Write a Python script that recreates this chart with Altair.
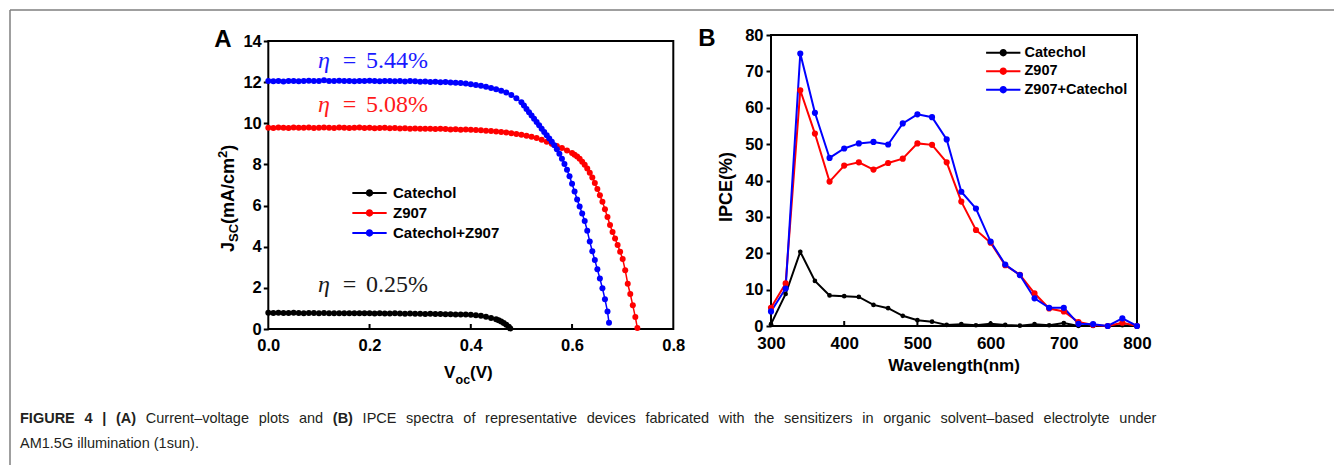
import altair as alt
import pandas as pd

# ---------------- Panel A : J-V curves ----------------
seriesA = ["Catechol", "Z907", "Catechol+Z907"]
V_catechol = [0.00, 0.01, 0.02, 0.03, 0.04, 0.05, 0.06, 0.07, 0.08, 0.09,
              0.10, 0.11, 0.12, 0.13, 0.14, 0.15, 0.16, 0.17, 0.18, 0.19,
              0.20, 0.21, 0.22, 0.23, 0.24, 0.25, 0.26, 0.27, 0.28, 0.29,
              0.30, 0.31, 0.32, 0.33, 0.34, 0.35, 0.36, 0.37, 0.38, 0.39,
              0.40, 0.41, 0.42, 0.43, 0.44, 0.45, 0.455, 0.46, 0.465, 0.47, 0.475, 0.478]
J_catechol = [0.79, 0.78, 0.79, 0.78, 0.78, 0.79, 0.78, 0.77, 0.78, 0.78,
              0.77, 0.78, 0.77, 0.77, 0.76, 0.77, 0.76, 0.76, 0.77, 0.76,
              0.76, 0.75, 0.76, 0.75, 0.75, 0.76, 0.75, 0.74, 0.75, 0.74,
              0.74, 0.73, 0.74, 0.73, 0.73, 0.72, 0.72, 0.71, 0.71, 0.70,
              0.69, 0.67, 0.64, 0.60, 0.54, 0.47, 0.42, 0.36, 0.29, 0.21, 0.11, 0.03]
V_z907 = [0.00, 0.01, 0.02, 0.03, 0.04, 0.05, 0.06, 0.07, 0.08, 0.09,
          0.10, 0.11, 0.12, 0.13, 0.14, 0.15, 0.16, 0.17, 0.18, 0.19,
          0.20, 0.21, 0.22, 0.23, 0.24, 0.25, 0.26, 0.27, 0.28, 0.29,
          0.30, 0.31, 0.32, 0.33, 0.34, 0.35, 0.36, 0.37, 0.38, 0.39,
          0.40, 0.41, 0.42, 0.43, 0.44, 0.45, 0.46, 0.47, 0.48, 0.49,
          0.50, 0.51, 0.52, 0.53, 0.54, 0.55, 0.56, 0.57, 0.58, 0.59,
          0.60, 0.605, 0.61, 0.615, 0.62, 0.625, 0.63, 0.635, 0.64, 0.645,
          0.65, 0.655, 0.66, 0.665, 0.67, 0.675, 0.68, 0.685, 0.69, 0.695,
          0.70, 0.705, 0.71, 0.715, 0.72, 0.725, 0.729]
J_z907 = [9.78, 9.77, 9.79, 9.78, 9.77, 9.79, 9.78, 9.78, 9.79, 9.77,
          9.78, 9.79, 9.78, 9.77, 9.79, 9.78, 9.77, 9.78, 9.79, 9.77,
          9.78, 9.76, 9.77, 9.78, 9.76, 9.77, 9.75, 9.76, 9.74, 9.75,
          9.74, 9.73, 9.74, 9.72, 9.73, 9.72, 9.70, 9.71, 9.69, 9.70,
          9.68, 9.67, 9.66, 9.64, 9.63, 9.60, 9.58, 9.55, 9.52, 9.48,
          9.44, 9.40, 9.35, 9.28, 9.20, 9.10, 9.00, 8.90, 8.80, 8.68,
          8.55, 8.47, 8.38, 8.27, 8.13, 7.98, 7.80, 7.60, 7.36, 7.10,
          6.80, 6.50, 6.18, 5.82, 5.44, 5.06, 4.72, 4.40, 4.08, 3.76,
          3.40, 2.86, 2.20, 1.70, 1.15, 0.58, 0.05]
V_mix = [0.00, 0.01, 0.02, 0.03, 0.04, 0.05, 0.06, 0.07, 0.08, 0.09,
         0.10, 0.11, 0.12, 0.13, 0.14, 0.15, 0.16, 0.17, 0.18, 0.19,
         0.20, 0.21, 0.22, 0.23, 0.24, 0.25, 0.26, 0.27, 0.28, 0.29,
         0.30, 0.31, 0.32, 0.33, 0.34, 0.35, 0.36, 0.37, 0.38, 0.39,
         0.40, 0.41, 0.42, 0.43, 0.44, 0.45, 0.46, 0.47, 0.48, 0.49,
         0.50, 0.505, 0.51, 0.515, 0.52, 0.525, 0.53, 0.535, 0.54, 0.545,
         0.55, 0.555, 0.56, 0.565, 0.57, 0.575, 0.58, 0.585, 0.59, 0.595,
         0.60, 0.605, 0.61, 0.615, 0.62, 0.625, 0.63, 0.635, 0.64, 0.645,
         0.65, 0.655, 0.66, 0.665, 0.67, 0.673]
J_mix = [12.05, 12.04, 12.06, 12.03, 12.05, 12.06, 12.04, 12.05, 12.07, 12.05,
         12.06, 12.09, 12.06, 12.05, 12.07, 12.05, 12.06, 12.04, 12.06, 12.05,
         12.07, 12.05, 12.04, 12.06, 12.05, 12.04, 12.05, 12.03, 12.05, 12.04,
         12.02, 12.03, 12.01, 12.02, 12.00, 12.01, 11.98, 11.97, 11.96, 11.93,
         11.90, 11.86, 11.83, 11.78, 11.72, 11.66, 11.58, 11.50, 11.38, 11.22,
         11.02, 10.86, 10.70, 10.54, 10.38, 10.22, 10.06, 9.90, 9.74, 9.58,
         9.42, 9.26, 9.10, 8.93, 8.74, 8.52, 8.28, 8.02, 7.74, 7.42,
         7.06, 6.68, 6.30, 5.95, 5.62, 5.25, 4.78, 4.25, 3.78, 3.35,
         2.90, 2.45, 1.98, 1.45, 0.85, 0.30]
ticksA_x = [0.0, 0.2, 0.4, 0.6, 0.8]
ticksA_y = [0, 2, 4, 6, 8, 10, 12, 14]
eta_values = ["5.44%", "5.08%", "0.25%"]

# ---------------- Panel B : IPCE ----------------
seriesB = ["Catechol", "Z907", "Z907+Catechol"]
wavelength = [300, 320, 340, 360, 380, 400, 420, 440, 460, 480, 500, 520, 540,
              560, 580, 600, 620, 640, 660, 680, 700, 720, 740, 760, 780, 800]
ipce_catechol = [0.5, 8.8, 20.4, 12.4, 8.4, 8.2, 8.0, 5.8, 4.9, 2.8, 1.6, 1.2, 0.3,
                 0.5, 0.2, 0.6, 0.3, 0.1, 0.5, 0.2, 0.8, 0.0, 0.0, 0.0, 0.2, 0.0]
ipce_z907 = [5.0, 11.7, 64.8, 52.9, 39.7, 44.1, 45.0, 43.0, 44.8, 46.0, 50.2, 49.8, 45.0,
             34.2, 26.4, 22.9, 16.7, 14.1, 9.0, 4.8, 4.0, 1.1, 0.3, 0.0, 0.9, 0.0]
ipce_mix = [4.0, 10.3, 74.9, 58.6, 46.2, 48.8, 50.2, 50.6, 49.9, 55.7, 58.2, 57.4, 51.3,
            36.9, 32.3, 23.2, 16.9, 14.0, 7.6, 5.0, 5.0, 0.6, 0.5, 0.0, 2.1, 0.0]
ticksB_x = [300, 400, 500, 600, 700, 800]
ticksB_y = [0, 10, 20, 30, 40, 50, 60, 70, 80]

colors = ["#000000", "#ff0000", "#0000ff"]

GAP = "\u2002\u2006"   # widened (justified) word space
caption_bold = ["FIGURE 4 | (A)", "(B)"]
caption_text = ["Current\u2013voltage plots and",
                "IPCE spectra of representative devices fabricated with the sensitizers in organic solvent\u2013based electrolyte under",
                "AM1.5G illumination (1sun)."]

# ---------------- layout constants ----------------
W, H = 1326, 457
FONT = "Liberation Sans"
SERIF = "Liberation Serif"
SYMBOL = "M-2.45,-0.15H2.45V0.15H-2.45Z M0.52,0A0.52,0.52,0,1,1,-0.52,0A0.52,0.52,0,1,1,0.52,0Z"

A_x0, A_x1, A_ytop, A_ybot = 260.3, 665.3, 33, 321
B_x0, B_x1, B_ytop, B_ybot = 763, 1129, 27, 318


def series_frame(xs, ys, name, xk, yk):
    return pd.DataFrame({xk: xs, yk: ys, "series": name})


dfA = pd.concat([series_frame(V_catechol, J_catechol, seriesA[0], "V", "J"),
                 series_frame(V_z907, J_z907, seriesA[1], "V", "J"),
                 series_frame(V_mix, J_mix, seriesA[2], "V", "J")], ignore_index=True)
dfB_black = series_frame(wavelength, ipce_catechol, seriesB[0], "wl", "ipce")
dfB_col = pd.concat([series_frame(wavelength, ipce_z907, seriesB[1], "wl", "ipce"),
                     series_frame(wavelength, ipce_mix, seriesB[2], "wl", "ipce")], ignore_index=True)
dfB = pd.concat([dfB_black, dfB_col], ignore_index=True)

label_style = dict(labelFont=FONT, labelFontWeight="bold", labelColor="black",
                   labelFlush=False, labelOverlap=False, grid=False, domain=False, title=None)


def xsA():
    return alt.Scale(domain=[ticksA_x[0], ticksA_x[-1]], range=[A_x0, A_x1], nice=False, zero=False)


def ysA():
    return alt.Scale(domain=[ticksA_y[0], ticksA_y[-1]], range=[A_ybot, A_ytop], nice=False, zero=False)


def xsB():
    return alt.Scale(domain=[ticksB_x[0], ticksB_x[-1]], range=[B_x0, B_x1], nice=False, zero=False)


def ysB():
    return alt.Scale(domain=[ticksB_y[0], ticksB_y[-1]], range=[B_ybot, B_ytop], nice=False, zero=False)


axAx = alt.Axis(orient="bottom", offset=-(H - A_ybot), values=ticksA_x, format=".1f",
                ticks=False, tickSize=0, labelPadding=8, labelFontSize=16.5, **label_style)
axAy = alt.Axis(orient="left", offset=-A_x0, values=ticksA_y, format="d",
                ticks=True, tickSize=5, tickWidth=2, tickColor="black",
                labelPadding=2, labelFontSize=16.5, **label_style)
axBx = alt.Axis(orient="bottom", offset=-(H - B_ybot), values=ticksB_x, format="d",
                ticks=False, tickSize=0, labelPadding=9, labelFontSize=17, **label_style)
axBy = alt.Axis(orient="left", offset=-B_x0, values=ticksB_y, format="d",
                ticks=True, tickSize=5, tickWidth=2, tickColor="black",
                labelPadding=3, labelFontSize=16.5, **label_style)


def legend(x, y, size, offset, pad):
    return alt.Legend(orient="none", legendX=x, legendY=y, direction="vertical", title=None,
                      symbolType=SYMBOL, symbolSize=196, symbolStrokeWidth=0, symbolOpacity=1,
                      labelFont=FONT, labelFontSize=size, labelFontWeight="bold",
                      labelColor="black", labelOffset=offset, rowPadding=pad, padding=0)


# ---------------- Panel A layers ----------------
frameA = alt.Chart(pd.DataFrame({"x0": [ticksA_x[0]], "x1": [ticksA_x[-1]],
                                 "y0": [ticksA_y[0]], "y1": [ticksA_y[-1]]})).mark_rect(
    fillOpacity=0, stroke="black", strokeWidth=2).encode(
    x=alt.X("x0:Q", scale=xsA(), axis=axAx), x2="x1:Q",
    y=alt.Y("y0:Q", scale=ysA(), axis=axAy), y2="y1:Q")
tickA = alt.Chart(pd.DataFrame({"t": ticksA_x[1:-1]})).mark_rule(color="black", strokeWidth=2).encode(
    x=alt.X("t:Q", scale=xsA(), axis=None), y=alt.value(A_ybot), y2=alt.value(A_ybot - 5))
lineA = alt.Chart(dfA).mark_line(strokeWidth=1.5).encode(
    x=alt.X("V:Q", scale=xsA(), axis=None), y=alt.Y("J:Q", scale=ysA(), axis=None),
    stroke=alt.Stroke("series:N", scale=alt.Scale(domain=seriesA, range=colors), legend=None),
    order="V:Q")
pointA = alt.Chart(dfA).mark_point(filled=True, size=36, opacity=1).encode(
    x=alt.X("V:Q", scale=xsA(), axis=None), y=alt.Y("J:Q", scale=ysA(), axis=None),
    color=alt.Color("series:N", scale=alt.Scale(domain=seriesA, range=colors),
                    legend=legend(354, 177.5, 15, 16, 4)))

# ---------------- Panel B layers ----------------
frameB = alt.Chart(pd.DataFrame({"x0": [ticksB_x[0]], "x1": [ticksB_x[-1]],
                                 "y0": [ticksB_y[0]], "y1": [ticksB_y[-1]]})).mark_rect(
    fillOpacity=0, stroke="black", strokeWidth=2).encode(
    x=alt.X("x0:Q", scale=xsB(), axis=axBx), x2="x1:Q",
    y=alt.Y("y0:Q", scale=ysB(), axis=axBy), y2="y1:Q")
tickB = alt.Chart(pd.DataFrame({"t": ticksB_x[1:-1]})).mark_rule(color="black", strokeWidth=2).encode(
    x=alt.X("t:Q", scale=xsB(), axis=None), y=alt.value(B_ybot), y2=alt.value(B_ybot - 5))
lineB = alt.Chart(dfB).mark_line(strokeWidth=2).encode(
    x=alt.X("wl:Q", scale=xsB(), axis=None), y=alt.Y("ipce:Q", scale=ysB(), axis=None),
    stroke=alt.Stroke("series:N", scale=alt.Scale(domain=seriesB, range=colors), legend=None),
    order="wl:Q")
pointB_black = alt.Chart(dfB_black).mark_point(filled=True, opacity=1, size=22, color=colors[0]).encode(
    x=alt.X("wl:Q", scale=xsB(), axis=None), y=alt.Y("ipce:Q", scale=ysB(), axis=None))
pointB_col = alt.Chart(dfB_col).mark_point(filled=True, opacity=1, size=38).encode(
    x=alt.X("wl:Q", scale=xsB(), axis=None), y=alt.Y("ipce:Q", scale=ysB(), axis=None),
    color=alt.Color("series:N", scale=alt.Scale(domain=seriesB, range=colors),
                    legend=legend(988, 37.5, 14.5, 14, 3.5)))

# ---------------- text decorations ----------------
one = pd.DataFrame({"k": [0]})


def txt(text, x, y, size, weight="normal", color="black", font=FONT, angle=0,
        align="left", style="normal"):
    kw = dict(text=text, fontSize=size, fontWeight=weight, color=color, font=font,
              align=align, baseline="alphabetic", fontStyle=style)
    if angle:
        kw["angle"] = angle
    return alt.Chart(one).mark_text(**kw).encode(x=alt.value(x), y=alt.value(y))


decor = []
# panel letters
decor.append(txt("A", 215, 39, 24, "bold", align="center"))
decor.append(txt("B", 699, 38, 24, "bold", align="center"))
# eta annotations
eta_cols = ["#1a1aff", "#ff1a1a", "#1a1a1a"]
eta_y = [60, 104, 284]
for val, col, yy in zip(eta_values, eta_cols, eta_y):
    decor.append(txt("\u03b7", 310, yy, 24, color=col, font=SERIF, style="italic"))
    decor.append(txt("=", 341.5, yy, 24, color=col, font=SERIF, align="center"))
    decor.append(txt(val, 358, yy, 24, color=col, font=SERIF))
# panel A axis titles
decor.append(txt("V", 436, 370, 17, "bold"))
decor.append(txt("oc", 447.5, 376, 12.5, "bold"))
decor.append(txt("(V)", 462, 370, 17, "bold"))
decor.append(txt("J", 226, 244, 18, "bold", angle=270))
decor.append(txt("SC", 230, 234, 13, "bold", angle=270))
decor.append(txt("(mA/cm", 226, 215.9, 18, "bold", angle=270))
decor.append(txt("2", 219, 149.9, 13, "bold", angle=270))
decor.append(txt(")", 226, 142.7, 18, "bold", angle=270))
# panel B axis titles
decor.append(txt("IPCE(%)", 724, 179, 18, "bold", angle=270, align="center"))
decor.append(txt("Wavelength(nm)", 946, 363, 17, "bold", align="center"))
# caption (first line justified with widened word spaces)
cap_col = "#231f20"
decor.append(txt(caption_bold[0].replace(" ", GAP), 12, 415, 14.5, "bold", color=cap_col))
decor.append(txt(caption_text[0].replace(" ", GAP), 137.8, 415, 14.5, color=cap_col))
decor.append(txt(caption_bold[1], 324.8, 415, 14.5, "bold", color=cap_col))
decor.append(txt(caption_text[1].replace(" ", GAP), 354.6, 415, 14.5, color=cap_col))
decor.append(txt(caption_text[2], 12, 440, 14.5, color=cap_col))
# outer frame (top and left edges)
decor.append(alt.Chart(one).mark_rule(color="#7f7f7f", strokeWidth=1.5).encode(
    x=alt.value(2), x2=alt.value(W), y=alt.value(2)))
decor.append(alt.Chart(one).mark_rule(color="#7f7f7f", strokeWidth=1.5).encode(
    x=alt.value(2), y=alt.value(2), y2=alt.value(H)))

chart = alt.layer(frameA, tickA, lineA, pointA, frameB, tickB, lineB, pointB_black, pointB_col,
                  *decor).resolve_scale(
    x="independent", y="independent", color="independent", stroke="independent").properties(
    width=W, height=H, autosize=alt.AutoSizeParams(type="none"), padding=0
).configure_view(strokeWidth=0)

chart.save("out.html", embed_options={"renderer": "svg", "actions": False})
